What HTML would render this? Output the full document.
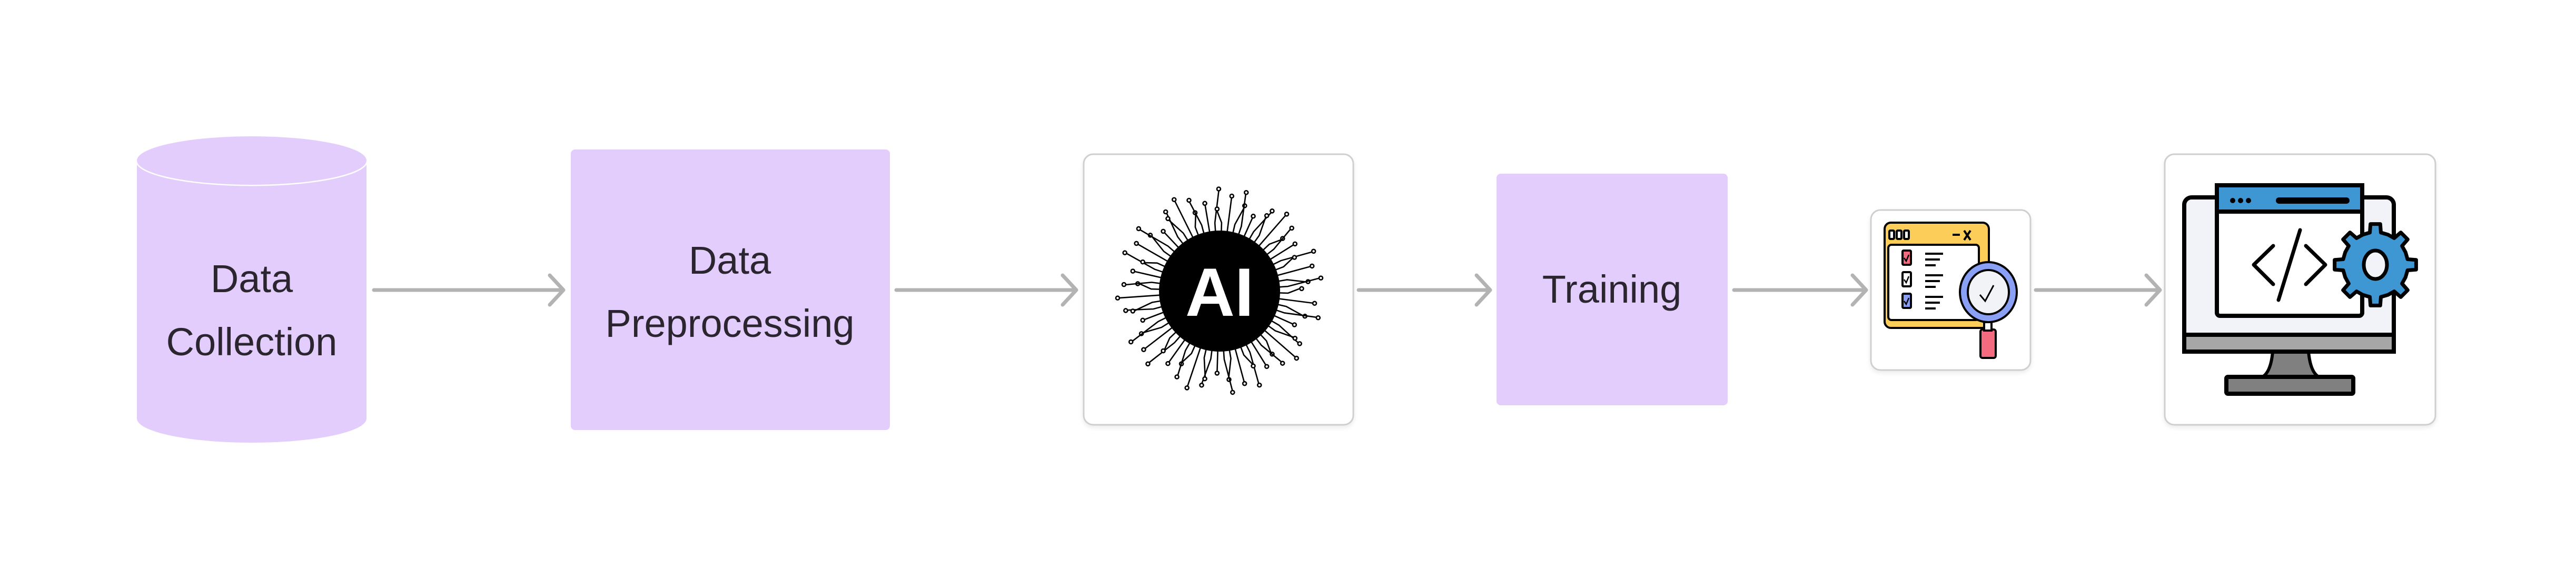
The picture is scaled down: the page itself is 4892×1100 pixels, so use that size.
<!DOCTYPE html>
<html><head><meta charset="utf-8"><style>
html,body{margin:0;padding:0;background:#fff;}
body{width:4892px;height:1100px;overflow:hidden;position:relative;font-family:"Liberation Sans",sans-serif;}
svg{position:absolute;left:0;top:0;}
</style></head><body>
<svg width="4892" height="1100" viewBox="0 0 4892 1100" xmlns="http://www.w3.org/2000/svg">
<defs>
<filter id="sh" x="-5%" y="-5%" width="110%" height="115%"><feDropShadow dx="0" dy="4" stdDeviation="4" flood-color="#000" flood-opacity="0.08"/></filter>
</defs>
<!-- cylinder -->
<path d="M260 305 L260 795 A218 46 0 0 0 696 795 L696 305 Z" fill="#e3cdfc"/>
<path d="M260 305 A218 46 0 0 0 696 305" fill="none" stroke="#fff" stroke-width="5"/>
<ellipse cx="478" cy="305" rx="218" ry="46" fill="#e3cdfc"/>
<text x="478" y="555" font-size="74" fill="#2b2530" text-anchor="middle">Data</text>
<text x="478" y="675" font-size="74" fill="#2b2530" text-anchor="middle">Collection</text>
<!-- box 2 -->
<rect x="1084" y="284" width="606" height="533" rx="8" fill="#e3cdfc"/>
<text x="1386" y="520" font-size="74" fill="#2b2530" text-anchor="middle">Data</text>
<text x="1386" y="640" font-size="74" fill="#2b2530" text-anchor="middle">Preprocessing</text>
<!-- AI box -->
<rect x="2058" y="293" width="512" height="514" rx="18" fill="#fff" stroke="#cfcfcf" stroke-width="3" filter="url(#sh)"/>
<g id="circ" stroke="#000" stroke-width="2.6" fill="#fff"></g>
<circle cx="2316" cy="553" r="115" fill="#000"/>
<text x="2316" y="600" font-size="130" font-weight="bold" fill="#fff" text-anchor="middle">AI</text>
<!-- Training -->
<rect x="2842" y="330" width="439" height="440" rx="8" fill="#e3cdfc"/>
<text x="3061" y="575" font-size="74" fill="#2b2530" text-anchor="middle">Training</text>
<!-- box5 -->
<rect x="3553" y="399" width="303" height="304" rx="18" fill="#fff" stroke="#cfcfcf" stroke-width="3" filter="url(#sh)"/>
<g stroke="#000" stroke-width="4">
<rect x="3579" y="423" width="198" height="200" rx="12" fill="#fdcd5a"/>
<rect x="3586" y="465" width="172" height="143" rx="6" fill="#fff"/>
<rect x="3588" y="438" width="9" height="16" rx="2" fill="#fff"/>
<rect x="3602" y="438" width="9" height="16" rx="2" fill="#fff"/>
<rect x="3616" y="438" width="9" height="16" rx="2" fill="#fff"/>
<line x1="3708" y1="446" x2="3722" y2="446"/>
<path d="M3730 438 L3742 456 M3742 438 L3730 456" fill="none"/>
<rect x="3613" y="476" width="16" height="27" rx="2" fill="#f46b80"/>
<rect x="3613" y="517" width="16" height="27" rx="2" fill="#fff"/>
<rect x="3613" y="558" width="16" height="27" rx="2" fill="#8aa0f5"/>
<path d="M3616 490l4 6 5-12 M3616 531l4 6 5-12 M3616 572l4 6 5-12" fill="none" stroke-width="2.5"/>
<path d="M3656 482h34 M3656 493h28 M3656 504h20 M3656 523h34 M3656 534h28 M3656 545h20 M3656 564h34 M3656 575h28 M3656 586h20" fill="none"/>
<rect x="3761" y="626" width="29" height="54" rx="4" fill="#f46b80"/>
<rect x="3768" y="612" width="14" height="16" fill="#fff"/>
<ellipse cx="3776" cy="555" rx="54" ry="57" fill="#8aa0f5"/>
<ellipse cx="3776" cy="555" rx="39" ry="42" fill="#f2f3f7"/>
<path d="M3760 560 l10 12 l16 -30" fill="none" stroke-width="3"/>
</g>
<!-- box6 -->
<rect x="4111" y="293" width="514" height="514" rx="18" fill="#fff" stroke="#cfcfcf" stroke-width="3" filter="url(#sh)"/>
<g stroke="#000" stroke-width="8">
<path d="M4316 668 L4384 668 Q4388 712 4408 718 L4292 718 Q4312 712 4316 668Z" fill="#808080" stroke-width="6"/>
<rect x="4228" y="716" width="241" height="32" rx="3" fill="#808080"/>
<rect x="4148" y="375" width="398" height="293" rx="14" fill="#f2f3f8"/>
<rect x="4148" y="636" width="398" height="32" fill="#a6a6a6"/>
<rect x="4210" y="352" width="276" height="248" rx="6" fill="#fff"/>
<rect x="4210" y="352" width="276" height="50" fill="#3e97d3"/>
</g>
<g fill="#000"><circle cx="4240" cy="381" r="5"/><circle cx="4255" cy="381" r="5"/><circle cx="4270" cy="381" r="5"/><rect x="4322" y="375" width="140" height="12" rx="6"/></g>
<g stroke="#000" stroke-width="7" fill="none" stroke-linecap="round" stroke-linejoin="round">
<path d="M4317 467 L4280 503 L4317 540"/><path d="M4379 467 L4416 503 L4379 540"/><path d="M4368 437 L4327 570"/>
</g>
<g transform="translate(4511 503)" id="gear"></g>
<!-- arrows -->
<g stroke="#b3b3b3" stroke-width="7" fill="none" stroke-linecap="round" stroke-linejoin="round">
<path d="M710 551H1068 M1044 523L1070 551L1044 579"/>
<path d="M1702 551H2042 M2018 523L2044 551L2018 579"/>
<path d="M2580 551H2828 M2804 523L2830 551L2804 579"/>
<path d="M3293 551H3542 M3518 523L3544 551L3518 579"/>
<path d="M3866 551H4100 M4076 523L4102 551L4076 579"/>
</g>
</svg>
<script>
(function(){
var ns="http://www.w3.org/2000/svg",g=document.getElementById('circ'),cx=2316,cy=553;
for(var i=0;i<64;i++){
 var a=i/64*Math.PI*2+0.03, L=[152,178,165,190][i%4], r0=108;
 var b=a+((i%3)-1)*0.06;
 var x0=cx+r0*Math.cos(a),y0=cy+r0*Math.sin(a);
 var xm=cx+(r0+22)*Math.cos(a),ym=cy+(r0+22)*Math.sin(a);
 var x1=cx+L*Math.cos(b),y1=cy+L*Math.sin(b);
 var p=document.createElementNS(ns,'path');
 p.setAttribute('d','M'+x0+' '+y0+'L'+xm+' '+ym+'L'+x1+' '+y1);p.setAttribute('fill','none');g.appendChild(p);
 var c=document.createElementNS(ns,'circle');c.setAttribute('cx',cx+(L+4)*Math.cos(b));c.setAttribute('cy',cy+(L+4)*Math.sin(b));c.setAttribute('r',3.5);g.appendChild(c);
}
var gg=document.getElementById('gear'),d='';
for(var k=0;k<8;k++){var t=k/8*Math.PI*2;
 var pts=[[t-0.17,62],[t-0.12,78],[t+0.12,78],[t+0.17,62],[t+Math.PI/8,62]];
 pts.forEach(function(q,j){d+=(k==0&&j==0?'M':'L')+(q[1]*Math.cos(q[0])).toFixed(1)+' '+(q[1]*Math.sin(q[0])).toFixed(1);});}
d+='Z';
var gp=document.createElementNS(ns,'path');gp.setAttribute('d',d);gp.setAttribute('fill','#3e97d3');gp.setAttribute('stroke','#000');gp.setAttribute('stroke-width','7');gp.setAttribute('stroke-linejoin','round');gg.appendChild(gp);
var h=document.createElementNS(ns,'ellipse');h.setAttribute('rx',22);h.setAttribute('ry',27);h.setAttribute('fill','#f2f3f8');h.setAttribute('stroke','#000');h.setAttribute('stroke-width','7');gg.appendChild(h);
})();
</script>
</body></html>
